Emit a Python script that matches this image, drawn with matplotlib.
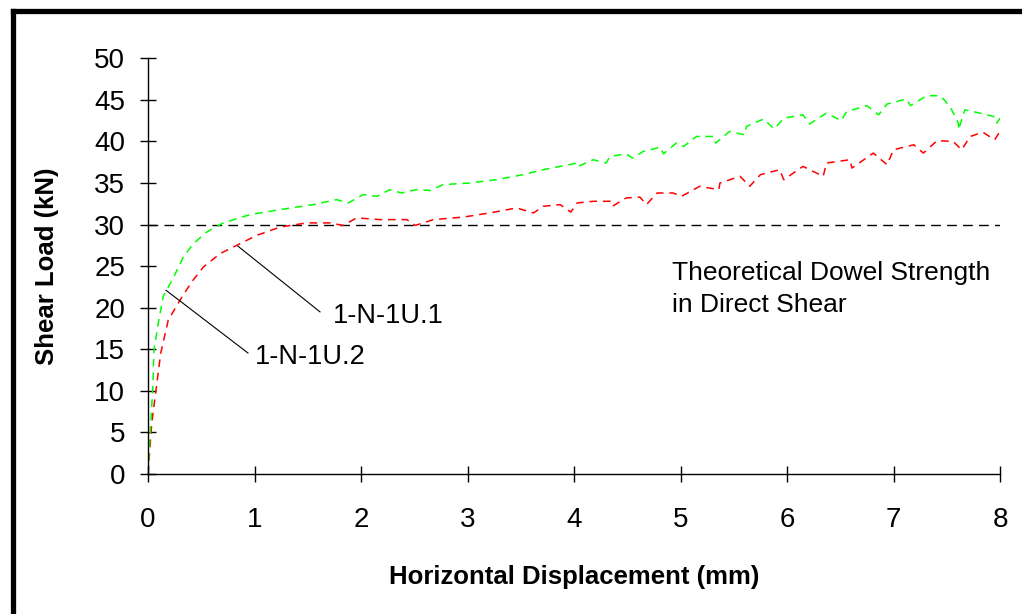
import matplotlib
matplotlib.use("Agg")
import matplotlib.pyplot as plt
from matplotlib.lines import Line2D

plt.rcParams['font.family'] = ['Liberation Sans', 'DejaVu Sans']

# 1-N-1U.1 (green)
gx = [0, 0.02, 0.044, 0.056, 0.097, 0.144, 0.238, 0.332, 0.426, 0.551,
      0.707, 0.958, 1.24, 1.55, 1.77, 1.88, 2.02, 2.15, 2.27, 2.38,
      2.52, 2.65, 2.77, 3.02, 3.27, 3.52, 3.71, 3.87, 4.03, 4.04,
      4.18, 4.30, 4.34, 4.49, 4.55, 4.65, 4.81, 4.84, 4.96, 5.03,
      5.15, 5.31, 5.33, 5.46, 5.60, 5.62, 5.78, 5.88, 5.97, 6.15,
      6.21, 6.37, 6.51, 6.56, 6.75, 6.86, 6.94, 7.12, 7.16, 7.31,
      7.44, 7.53, 7.61, 7.61, 7.67, 7.78, 7.94, 7.97, 8.0]
gy = [0, 4.9, 10.1, 14.9, 18.2, 21.4, 23.6, 26.1, 27.7, 29.1,
      30.2, 31.2, 31.8, 32.4, 33.0, 32.6, 33.6, 33.4, 34.2, 33.8,
      34.2, 34.1, 34.8, 35.0, 35.4, 36.0, 36.6, 37.0, 37.4, 37.0,
      37.8, 37.4, 38.2, 38.5, 38.0, 38.8, 39.3, 38.5, 39.8, 39.4,
      40.6, 40.6, 39.8, 41.2, 40.8, 41.8, 42.7, 41.5, 42.8, 43.2,
      42.1, 43.4, 42.5, 43.6, 44.3, 43.2, 44.5, 45.1, 44.3, 45.5,
      45.5, 44.2, 42.2, 41.4, 43.8, 43.5, 43.0, 42.2, 42.8]

# 1-N-1U.2 (red)
rx = [0, 0.035, 0.075, 0.119, 0.19, 0.30, 0.41, 0.52, 0.676, 0.833,
      1.02, 1.24, 1.49, 1.71, 1.83, 1.96, 2.18, 2.43, 2.51, 2.68,
      2.96, 3.21, 3.46, 3.62, 3.71, 3.87, 3.97, 4.03, 4.18, 4.34,
      4.36, 4.49, 4.62, 4.68, 4.78, 4.93, 5.01, 5.18, 5.36, 5.37,
      5.56, 5.65, 5.75, 5.93, 5.97, 6.15, 6.34, 6.37, 6.59, 6.61,
      6.81, 6.94, 7.0, 7.19, 7.28, 7.41, 7.56, 7.64, 7.72, 7.84,
      7.95, 8.0]
ry = [0, 6.1, 10.1, 14.5, 18.5, 20.9, 23.1, 24.9, 26.5, 27.5,
      28.7, 29.7, 30.2, 30.2, 29.9, 30.8, 30.6, 30.6, 29.9, 30.6,
      30.9, 31.4, 32.0, 31.4, 32.2, 32.4, 31.5, 32.6, 32.8, 32.8,
      32.2, 33.2, 33.3, 32.4, 33.8, 33.8, 33.4, 34.6, 34.2, 35.0,
      35.8, 34.6, 36.0, 36.6, 35.4, 37.0, 35.8, 37.4, 37.8, 36.8,
      38.6, 37.2, 39.0, 39.6, 38.6, 40.1, 40.0, 39.0, 40.6, 41.1,
      40.2, 41.2]

theory_load = 30
x_ticks = [0, 1, 2, 3, 4, 5, 6, 7, 8]
y_ticks = [0, 5, 10, 15, 20, 25, 30, 35, 40, 45, 50]

fig = plt.figure(figsize=(10.22, 6.14), dpi=100)
ax = fig.add_axes([148 / 1022, 1 - 474 / 614, 852 / 1022, (474 - 58.3) / 614])

ax.plot(x_ticks[:1] + x_ticks[-1:], [theory_load, theory_load], color='black',
        lw=1.0, linestyle=(0, (7, 4.5)))
ax.plot(rx, ry, color='#ff0000', lw=1.1, linestyle=(0, (5, 3.8)))
ax.plot(gx, gy, color='#00ff00', lw=1.1, linestyle=(0, (5, 3.8)))

# leader lines and labels
ax.plot([0.845, 1.615], [27.4, 19.5], color='black', lw=0.8)
ax.text(1.737, 19.0, '1-N-1U.1', fontsize=19.5, va='center', ha='left')
ax.plot([0.169, 0.939], [22.1, 14.55], color='black', lw=0.8)
ax.text(1.005, 14.1, '1-N-1U.2', fontsize=19.5, va='center', ha='left')
ax.text(4.92, 22.3, 'Theoretical Dowel Strength\nin Direct Shear', fontsize=19,
        va='center', ha='left', linespacing=1.42)

ax.set_xlim(0, 8)
ax.set_ylim(0, 50)
ax.set_xticks(x_ticks)
ax.set_yticks(y_ticks)
ax.spines['top'].set_visible(False)
ax.spines['right'].set_visible(False)
ax.spines['left'].set_linewidth(1.0)
ax.spines['bottom'].set_linewidth(1.0)
ax.tick_params(axis='both', direction='inout', length=12, width=1.0, labelsize=20)
ax.tick_params(axis='x', pad=18)
ax.tick_params(axis='y', pad=10.5)
for s in ax.spines.values():
    s.set_clip_on(False)

fig.text(574 / 1022, 1 - 577 / 614, 'Horizontal Displacement (mm)', fontsize=18.5,
         fontweight='bold', ha='center', va='center')
fig.text(47.5 / 1022, 1 - 266 / 614, 'Shear Load (kN)', fontsize=18.5,
         fontweight='bold', ha='center', va='center', rotation=90)

# outer frame (left and top edges visible)
fx = 12.5 / 1022
fy = 1 - 10.5 / 614
fig.add_artist(Line2D([fx, fx], [-0.01, fy], transform=fig.transFigure,
                      color='black', lw=3.8, solid_capstyle='projecting'))
fig.add_artist(Line2D([fx, 1.01], [fy, fy], transform=fig.transFigure,
                      color='black', lw=3.8, solid_capstyle='projecting'))

fig.savefig('out.png', dpi=100)
